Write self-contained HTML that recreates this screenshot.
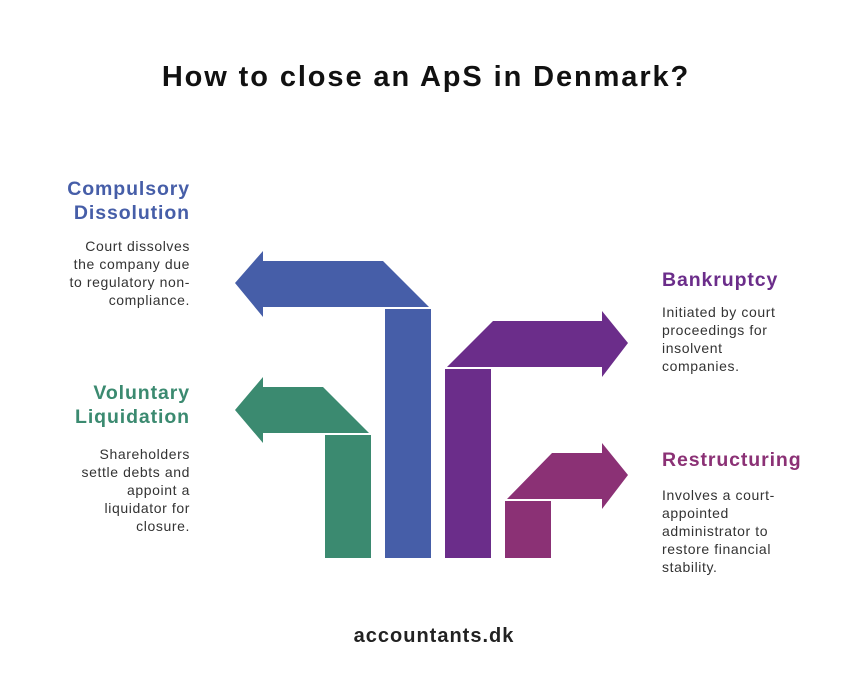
<!DOCTYPE html>
<html><head><meta charset="utf-8"><style>
body{margin:0;width:852px;height:692px;background:#fff;font-family:"Liberation Sans",sans-serif;position:relative;overflow:hidden}
.t{position:absolute;left:0;width:852px;text-align:center;top:61px;font-size:29px;letter-spacing:1.9px;font-weight:bold;color:#111}
.h{position:absolute;font-size:19.5px;letter-spacing:0.9px;font-weight:bold;line-height:24px}
.d{position:absolute;font-size:14px;letter-spacing:0.6px;line-height:18px;color:#333}
.r{text-align:right;right:662px}
.l{left:662px}
.f{position:absolute;left:8px;width:852px;text-align:center;top:625px;font-size:20px;letter-spacing:1px;font-weight:bold;color:#222}
</style></head><body>
<div class="t">How to close an ApS in Denmark?</div>
<svg width="852" height="692" style="position:absolute;left:0;top:0">
<polygon fill="#465ea8" points="235,283 263,251 263,261 383,261 429,307 263,307 263,317"/>
<rect fill="#465ea8" x="385" y="309" width="46" height="249"/>
<polygon fill="#3b8a70" points="235,410 263,377 263,387 323,387 369,433 263,433 263,443"/>
<rect fill="#3b8a70" x="325" y="435" width="46" height="123"/>
<polygon fill="#6b2d8a" points="628,343 602,311 602,321 493,321 447,367 602,367 602,377"/>
<rect fill="#6b2d8a" x="445" y="369" width="46" height="189"/>
<polygon fill="#8b3175" points="628,475 602,443 602,453 552,453 507,499 602,499 602,509"/>
<rect fill="#8b3175" x="505" y="501" width="46" height="57"/>
</svg>
<div class="h r" style="top:177px;color:#465ea8">Compulsory<br>Dissolution</div>
<div class="d r" style="top:237px">Court dissolves<br>the company due<br>to regulatory non-<br>compliance.</div>
<div class="h r" style="top:381px;color:#3b8a70">Voluntary<br>Liquidation</div>
<div class="d r" style="top:445px">Shareholders<br>settle debts and<br>appoint a<br>liquidator for<br>closure.</div>
<div class="h l" style="top:268px;color:#6b2d8a">Bankruptcy</div>
<div class="d l" style="top:303px">Initiated by court<br>proceedings for<br>insolvent<br>companies.</div>
<div class="h l" style="top:448px;color:#8b3175">Restructuring</div>
<div class="d l" style="top:486px">Involves a court-<br>appointed<br>administrator to<br>restore financial<br>stability.</div>
<div class="f">accountants.dk</div>
</body></html>
